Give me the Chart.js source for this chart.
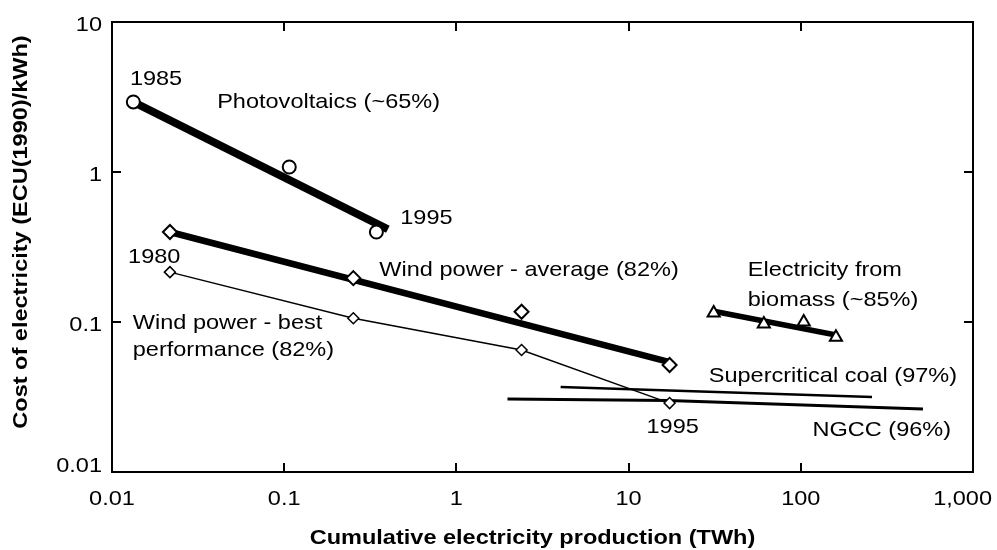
<!DOCTYPE html>
<html>
<head>
<meta charset="utf-8">
<script src="https://cdn.jsdelivr.net/npm/chart.js@4.4.1/dist/chart.umd.min.js"></script>
<style>
  html, body { margin: 0; padding: 0; background: #fff; }
  #wrap { width: 997px; height: 550px; }
</style>
</head>
<body>
<div id="wrap"><canvas id="c" width="997" height="550"></canvas></div>
<script>
// ---------- data ----------
const pvX = [0.0133, 0.107, 0.343];
const pvY = [2.93, 1.08, 0.398];
const pvFitX = [0.0133, 0.40];
const pvFitY = [2.93, 0.415];

const windX = [0.0217, 0.252, 2.39, 17.3];
const windAvgY = [0.398, 0.196, 0.117, 0.0517];
const windAvgFitX = [0.0217, 17.3];
const windAvgFitY = [0.398, 0.054];
const windBestY = [0.215, 0.106, 0.065, 0.0288];

const bioX = [31.2, 61, 104, 160];
const bioY = [0.115, 0.097, 0.100, 0.079];
const bioFitX = [31.2, 160];
const bioFitY = [0.118, 0.082];

const coalX = [4.03, 259];
const coalY = [0.0369, 0.0316];

const ngccX = [1.98, 17, 512];
const ngccY = [0.0307, 0.0300, 0.0263];

const xTickValues = [0.01, 0.1, 1, 10, 100, 1000];
const xTickLabels = ['0.01', '0.1', '1', '10', '100', '1,000'];
const yTickValues = [10, 1, 0.1, 0.01];
const yTickLabels = ['10', '1', '0.1', '0.01'];

const xTitle = 'Cumulative electricity production (TWh)';
const yTitle = 'Cost of electricity (ECU(1990)/kWh)';

// annotation texts anchored to data coordinates (x, y)
const noteTexts = ['1985', 'Photovoltaics (~65%)', '1995', '1980', 'Wind power - average (82%)',
  'Electricity from', 'biomass (~85%)', 'Wind power - best', 'performance (82%)',
  'Supercritical coal (97%)', '1995', 'NGCC (96%)'];
const noteX = [0.0127, 0.0408, 0.472, 0.0124, 0.357, 49.2, 49.2, 0.0132, 0.0132, 29.2, 12.7, 117];
const noteY = [4.17, 2.93, 0.494, 0.271, 0.222, 0.222, 0.140, 0.0985, 0.0651, 0.0437, 0.0200, 0.0190];

// ---------- helpers ----------
const pts = (xs, ys) => xs.map((x, i) => ({ x: x, y: ys[i] }));
const FONT = '"Liberation Sans", Arial, Helvetica, sans-serif';
const SX = 1.12;

function stretchText(ctx, text, x, y, align, font, rot) {
  ctx.save();
  ctx.font = font;
  ctx.fillStyle = '#000';
  ctx.translate(x, y);
  if (rot) ctx.rotate(rot);
  ctx.scale(SX, 1);
  ctx.textAlign = align;
  ctx.textBaseline = 'middle';
  ctx.fillText(text, 0, 0);
  ctx.restore();
}

const framePlugin = {
  id: 'frame',
  afterDraw(chart) {
    const ctx = chart.ctx;
    const a = chart.chartArea;
    const xs = chart.scales.x, ys = chart.scales.y;
    ctx.save();
    ctx.strokeStyle = '#000';
    ctx.lineWidth = 2;
    ctx.strokeRect(a.left, a.top, a.right - a.left, a.bottom - a.top);
    const tl = 9;
    ctx.beginPath();
    xTickValues.forEach(v => {
      const px = Math.round(xs.getPixelForValue(v));
      if (px <= a.left + 2 || px >= a.right - 2) return;
      ctx.moveTo(px, a.bottom); ctx.lineTo(px, a.bottom - tl);
      ctx.moveTo(px, a.top); ctx.lineTo(px, a.top + tl);
    });
    yTickValues.forEach(v => {
      const py = Math.round(ys.getPixelForValue(v));
      if (py <= a.top + 2 || py >= a.bottom - 2) return;
      ctx.moveTo(a.left, py); ctx.lineTo(a.left + tl, py);
      ctx.moveTo(a.right, py); ctx.lineTo(a.right - tl, py);
    });
    ctx.stroke();
    ctx.restore();

    const f = '21px ' + FONT;
    const fb = 'bold 21px ' + FONT;
    // tick labels
    yTickValues.forEach((v, i) => {
      const py = ys.getPixelForValue(v);
      stretchText(ctx, yTickLabels[i], a.left - 10, Math.min(py + 3, a.bottom - 6), 'right', f);
    });
    ctx.font = f;
    xTickValues.forEach((v, i) => {
      const px = xs.getPixelForValue(v);
      const w = ctx.measureText(xTickLabels[i]).width * SX;
      stretchText(ctx, xTickLabels[i], Math.min(px, chart.width - 5 - w / 2), a.bottom + 27, 'center', f);
    });
    // axis titles
    stretchText(ctx, xTitle, (a.left + a.right) / 2 - 10, a.bottom + 66, 'center', fb);
    stretchText(ctx, yTitle, 21, (a.top + a.bottom) / 2 - 15, 'center', fb, -Math.PI / 2);
    // annotations
    noteTexts.forEach((t, i) => {
      stretchText(ctx, t, xs.getPixelForValue(noteX[i]), ys.getPixelForValue(noteY[i]), 'left', f);
    });
  }
};

const marker = (data, style, r, bw) => ({
  data: data, showLine: false, pointStyle: style, pointRadius: r, pointHoverRadius: r,
  pointBorderWidth: bw, pointBorderColor: '#000', pointBackgroundColor: '#fff'
});
const line = (data, w) => ({
  data: data, showLine: true, borderColor: '#000', borderWidth: w, pointRadius: 0,
  pointHoverRadius: 0, tension: 0, fill: false
});

const datasets = [
  Object.assign({ label: 'PV points' }, marker(pts(pvX, pvY), 'circle', 6.5, 2)),
  Object.assign({ label: 'Wind avg points' }, marker(pts(windX, windAvgY), 'rectRot', 7, 2)),
  Object.assign({ label: 'Wind best points' }, marker(pts(windX, windBestY), 'rectRot', 5.5, 1.5)),
  Object.assign({ label: 'Biomass points' }, marker(pts(bioX, bioY), 'triangle', 7, 2)),
  Object.assign({ label: 'Photovoltaics (~65%)' }, line(pts(pvFitX, pvFitY), 8)),
  Object.assign({ label: 'Wind power - average (82%)' }, line(pts(windAvgFitX, windAvgFitY), 6.5)),
  Object.assign({ label: 'Wind power - best performance (82%)' }, line(pts(windX, windBestY), 1.5)),
  Object.assign({ label: 'Electricity from biomass (~85%)' }, line(pts(bioFitX, bioFitY), 5.5)),
  Object.assign({ label: 'Supercritical coal (97%)' }, line(pts(coalX, coalY), 2.5)),
  Object.assign({ label: 'NGCC (96%)' }, line(pts(ngccX, ngccY), 3))
];

new Chart(document.getElementById('c'), {
  type: 'scatter',
  data: { datasets: datasets },
  options: {
    responsive: false,
    animation: false,
    layout: { padding: { top: 22, right: 24, left: 0, bottom: 0 } },
    plugins: { legend: { display: false }, tooltip: { enabled: false } },
    scales: {
      x: {
        type: 'logarithmic', min: 0.01, max: 1000,
        ticks: { display: false }, grid: { display: false }, border: { display: false },
        afterFit(s) { s.height = 78; s.paddingLeft = 0; s.paddingRight = 0; }
      },
      y: {
        type: 'logarithmic', min: 0.01, max: 10,
        ticks: { display: false }, grid: { display: false }, border: { display: false },
        afterFit(s) { s.width = 112; s.paddingTop = 0; s.paddingBottom = 0; }
      }
    }
  },
  plugins: [framePlugin]
});
</script>
</body>
</html>
